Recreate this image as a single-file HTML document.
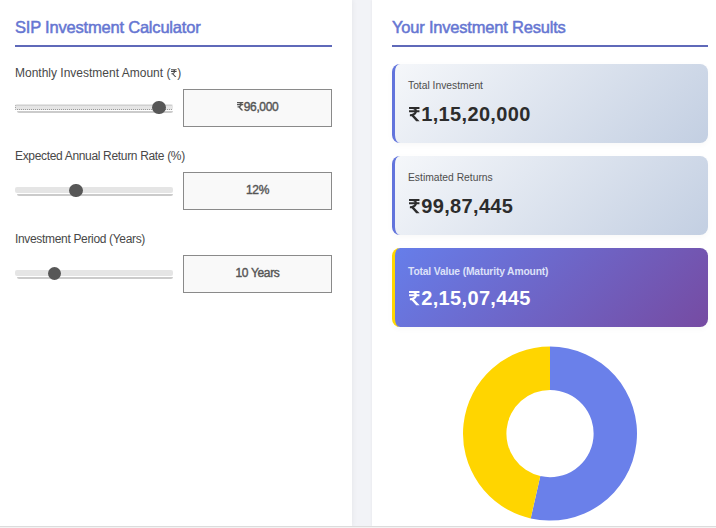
<!DOCTYPE html>
<html><head><meta charset="utf-8">
<style>
*{box-sizing:border-box;margin:0;padding:0}
html,body{width:716px;height:528px;overflow:hidden}
body{background:#f2f3f7;font-family:"Liberation Sans",sans-serif;position:relative}
.panel{position:absolute;top:0;height:526px;background:#fff}
#left{left:-5px;width:357px;box-shadow:1px 0 5px rgba(0,0,0,.05)}
#right{left:372px;width:360px;box-shadow:-1px 0 2px rgba(0,0,0,.03)}
.bottomline{position:absolute;left:0;top:526px;width:716px;height:1px;background:#dcdcdc}
.bottom{position:absolute;left:0;top:527px;width:716px;height:1px;background:#f3f3f3}
.h2{position:absolute;font-size:16.5px;line-height:16.5px;color:#6676d2;white-space:nowrap;-webkit-text-stroke:0.5px #6676d2;letter-spacing:-0.2px}
.uline{position:absolute;height:2px;background:#5f69b9}
.label{position:absolute;font-size:12px;line-height:12px;color:#484848;white-space:nowrap;letter-spacing:-0.33px}
.track{position:absolute;left:15px;width:158px;height:5.6px;border-radius:2px;background:#e5e5e5}
.tshadow{position:absolute;left:17px;width:156px;height:2px;border-radius:0 0 2px 2px;background:#cbcbcb}
.focus{position:absolute;left:15px;width:157px;height:5.5px;border-left:1px dotted #a5a5a5;border-bottom:1px dotted #9a9a9a;border-top:1px solid #d0d0d0}
.thumb{position:absolute;width:13.4px;height:13.4px;border-radius:50%;background:#575757}
.box{position:absolute;left:183px;width:149px;height:38px;border:1px solid #8a8a8a;background:#f9f9f9;color:#555;font-size:12px;font-weight:normal;-webkit-text-stroke:0.4px #555;text-align:center;line-height:34.5px;letter-spacing:-0.35px}
.card{position:absolute;left:392px;width:316px;height:79px;border-radius:8px;background:linear-gradient(135deg,#f5f7fa 0%,#c3cfe2 100%);border-left:3px solid #6274dc;box-shadow:0 2px 6px rgba(0,0,0,.03)}
.card .t{position:absolute;left:13px;top:16.5px;font-size:10.3px;line-height:10.3px;color:#4d4d4d;white-space:nowrap}
.card .v{position:absolute;left:13.5px;top:40px;font-size:20px;line-height:20px;font-weight:bold;color:#2c2c2c;white-space:nowrap;letter-spacing:0.35px}
.card.tv{background:linear-gradient(135deg,#667eea 0%,#764ba2 100%);border-left-color:#ffd700}
.card.tv .t{color:#dde1f8;font-weight:bold;letter-spacing:-0.15px;top:18.7px}
.card.tv .v{color:#fff}
svg.rs{display:inline-block;vertical-align:0;overflow:visible}
</style></head><body>
<div class="panel" id="left"></div>
<div class="panel" id="right"></div>
<div class="bottomline"></div>
<div class="bottom"></div>

<div class="h2" style="left:15px;top:18.6px">SIP Investment Calculator</div>
<div class="uline" style="left:15px;top:45px;width:317px"></div>

<div class="label" style="left:15px;top:66.8px;letter-spacing:0">Monthly Investment Amount (<svg class="rs" width="5.6" height="8.2" viewBox="0 0 73 100" style="margin:0 0.6px"><path d="M0 0H73V12H0ZM0 24H73V36H0ZM22 0C68 0 68 64 6 64V52C50 52 50 12 22 12ZM6 52H24L70 100H52Z" fill="currentColor"/></svg>)</div>
<div class="track" style="top:104.3px"></div><div class="tshadow" style="top:110.9px"></div><div class="focus" style="top:104.6px"></div>
<div class="thumb" style="left:152.3px;top:100.6px"></div>
<div class="box" style="top:89px"><svg class="rs" width="6.3" height="8.6" viewBox="0 0 73 100" style="margin-right:0.8px"><path d="M0 0H73V14H0ZM0 23H73V37H0ZM22 0C70 0 70 65 6 65V50C50 50 50 14 22 14ZM6 50H28L74 100H50Z" fill="currentColor"/></svg>96,000</div>

<div class="label" style="left:15px;top:149.6px">Expected Annual Return Rate (%)</div>
<div class="track" style="top:187.3px"></div><div class="tshadow" style="top:193.9px"></div>
<div class="thumb" style="left:69.3px;top:183.6px"></div>
<div class="box" style="top:172px">12%</div>

<div class="label" style="left:15px;top:232.5px">Investment Period (Years)</div>
<div class="track" style="top:270.3px"></div><div class="tshadow" style="top:276.9px"></div>
<div class="thumb" style="left:47.8px;top:266.7px"></div>
<div class="box" style="top:255px">10 Years</div>

<div class="h2" style="left:392px;top:18.6px">Your Investment Results</div>
<div class="uline" style="left:392px;top:45px;width:316px"></div>

<div class="card" style="top:64px"><div class="t">Total Investment</div><div class="v"><svg class="rs" width="10.5" height="14.3" viewBox="0 0 73 100" style="margin-right:2.2px"><path d="M0 0H73V14H0ZM0 23H73V37H0ZM22 0C70 0 70 65 6 65V50C50 50 50 14 22 14ZM6 50H28L74 100H50Z" fill="currentColor"/></svg>1,15,20,000</div></div>
<div class="card" style="top:156px"><div class="t">Estimated Returns</div><div class="v"><svg class="rs" width="10.5" height="14.3" viewBox="0 0 73 100" style="margin-right:2.2px"><path d="M0 0H73V14H0ZM0 23H73V37H0ZM22 0C70 0 70 65 6 65V50C50 50 50 14 22 14ZM6 50H28L74 100H50Z" fill="currentColor"/></svg>99,87,445</div></div>
<div class="card tv" style="top:248px"><div class="t">Total Value (Maturity Amount)</div><div class="v"><svg class="rs" width="10.5" height="14.3" viewBox="0 0 73 100" style="margin-right:2.2px"><path d="M0 0H73V14H0ZM0 23H73V37H0ZM22 0C70 0 70 65 6 65V50C50 50 50 14 22 14ZM6 50H28L74 100H50Z" fill="currentColor"/></svg>2,15,07,445</div></div>

<svg style="position:absolute;left:0;top:0" width="716" height="528" viewBox="0 0 716 528">
<path fill="#6a80ea" d="M550.00 346.60A87 87 0 1 1 530.69 518.43L540.32 476.11A43.6 43.6 0 1 0 550.00 390.00Z"/>
<path fill="#ffd500" d="M530.69 518.43A87 87 0 0 1 550.00 346.60L550.00 390.00A43.6 43.6 0 0 0 540.32 476.11Z"/>
</svg>
</body></html>
